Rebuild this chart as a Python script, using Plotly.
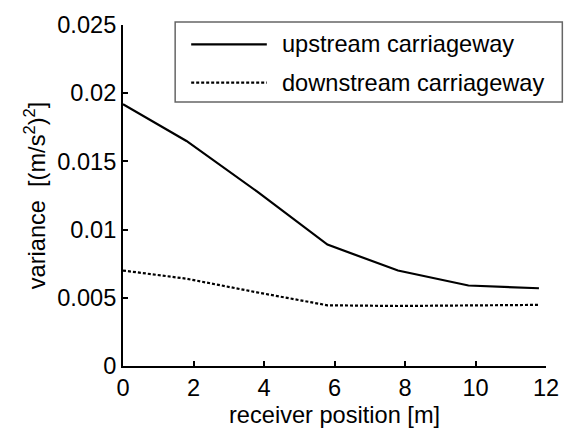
import plotly.graph_objects as go

# receiver positions [m]
positions = [0, 1.8, 3.8, 5.8, 7.8, 9.8, 11.8]
# variance [(m/s^2)^2]
upstream = [0.0192, 0.0165, 0.0128, 0.0089, 0.0070, 0.0059, 0.0057]
downstream = [0.0070, 0.0064, 0.0054, 0.00445, 0.0044, 0.00443, 0.00448]

series_names = ['upstream carriageway', 'downstream carriageway']

x_ticks = [0, 2, 4, 6, 8, 10, 12]
y_ticks = [0, 0.005, 0.01, 0.015, 0.02, 0.025]
y_ticktext = ['0', '0.005', '0.01', '0.015', '0.02', '0.025']

FONT = 'Liberation Sans, Arial, sans-serif'
FSIZE = 23.6

fig = go.Figure()
fig.add_trace(go.Scatter(x=positions, y=upstream, mode='lines', name=series_names[0],
                         line=dict(color='black', width=2.2), showlegend=False))
fig.add_trace(go.Scatter(x=positions, y=downstream, mode='lines', name=series_names[1],
                         line=dict(color='black', width=2.2, dash='3px,2px'), showlegend=False))

axis_style = dict(showline=True, linewidth=2, linecolor='black', ticks='inside', ticklen=5,
                  tickwidth=1.5, tickcolor='black', showgrid=False, zeroline=False, mirror=False,
                  tickfont=dict(family=FONT, size=FSIZE, color='black'))

fig.update_xaxes(range=[0, 12], tickvals=x_ticks, **axis_style)
fig.update_yaxes(range=[0, 0.025], tickvals=y_ticks, ticktext=y_ticktext, **axis_style)

# legend box drawn by hand (long line samples like the original)
fig.add_shape(type='rect', xref='paper', yref='paper', x0=0.1233, x1=1.0386, y0=0.7739, y1=1.0086,
              line=dict(color='#666666', width=1.5), fillcolor='white', layer='below')
fig.add_shape(type='line', xref='paper', yref='paper', x0=0.1612, x1=0.340, y0=0.9434, y1=0.9434,
              line=dict(color='black', width=2.2))
fig.add_shape(type='line', xref='paper', yref='paper', x0=0.1612, x1=0.340, y0=0.8313, y1=0.8313,
              line=dict(color='black', width=2.2, dash='3px,2px'))
for name, yy in zip(series_names, [0.9434, 0.8313]):
    fig.add_annotation(x=0.3705, y=yy, xref='paper', yref='paper', text=name, showarrow=False,
                       xanchor='left', yanchor='middle', font=dict(family=FONT, size=FSIZE, color='black'))

# axis titles
fig.add_annotation(x=0.4995, y=-0.1437, xref='paper', yref='paper', text='receiver position [m]',
                   showarrow=False, xanchor='center', yanchor='middle',
                   font=dict(family=FONT, size=FSIZE, color='black'))
fig.add_annotation(x=-0.2086, y=0.5, xref='paper', yref='paper',
                   text='variance  [(m/s<sup>2</sup>)<sup>2</sup>]', textangle=-90,
                   showarrow=False, xanchor='center', yanchor='middle',
                   font=dict(family=FONT, size=FSIZE, color='black'))

fig.update_layout(width=571, height=434, margin=dict(l=123, r=18, t=18, b=68),
                  plot_bgcolor='white', paper_bgcolor='white', showlegend=False)

fig.write_html("out.html", config={'displayModeBar': False},
               post_script="document.body.style.margin='0px';")
